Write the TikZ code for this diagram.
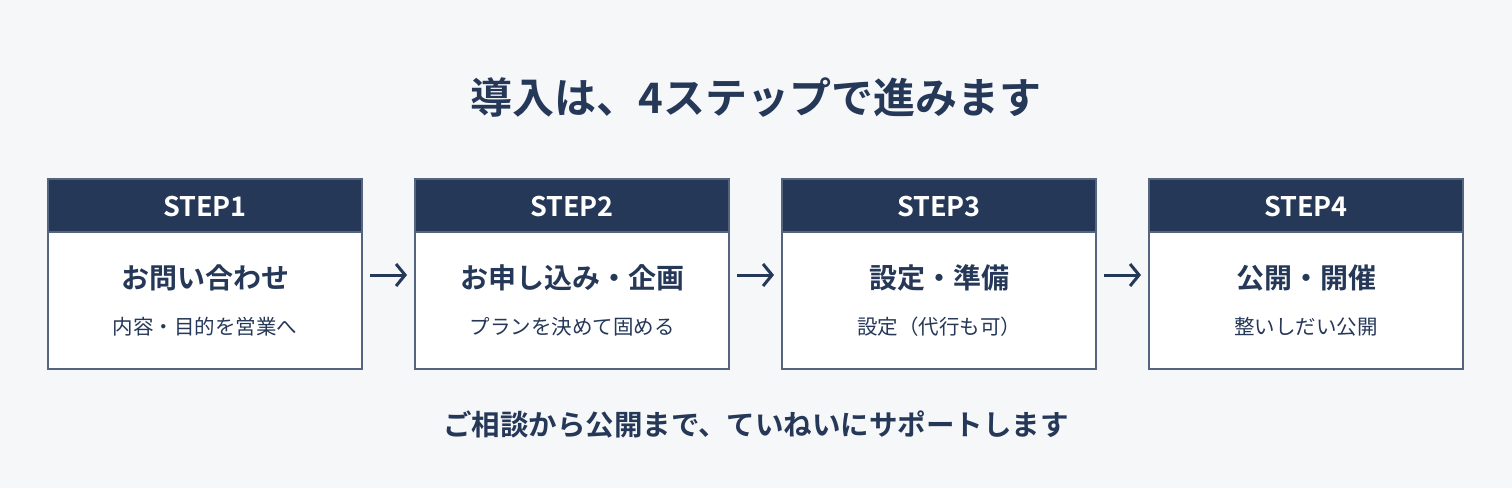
\documentclass[tikz,border=0pt]{standalone}
\usepackage{fontspec}
\newfontfamily\jp{Noto Sans CJK JP}
\newfontfamily\jpb{Noto Sans CJK JP Bold}
\usetikzlibrary{arrows.meta}
\definecolor{navy}{HTML}{253858}
\definecolor{bg}{HTML}{F6F7F9}
\definecolor{bord}{HTML}{55657F}
\tikzset{
  card/.style={draw=bord, line width=1.5pt, fill=white},
  head/.style={fill=navy},
  headtxt/.style={text=white, font=\jpb\fontsize{27}{30}\selectfont},
  ttl/.style={text=navy, font=\jpb\fontsize{28}{31}\selectfont},
  sub/.style={text=navy, font=\jp\fontsize{20.5}{23}\selectfont},
  flow/.style={draw=navy, line width=3pt, -{Straight Barb[length=9pt,width=22pt,line width=3pt]}},
}
\begin{document}
\begin{tikzpicture}[x=1pt,y=-1pt]
\fill[bg] (0,0) rectangle (1512,488);
\useasboundingbox (0,0) rectangle (1512,488);
\node[text=navy, font=\jpb\fontsize{42}{46}\selectfont] (title) at (756,98) {導入は、4ステップで進みます};
\foreach \i/\x/\t/\s in {1/48/お問い合わせ/内容・目的を営業へ, 2/415/お申し込み・企画/プランを決めて固める, 3/782/設定・準備/設定（代行も可）, 4/1149/公開・開催/整いしだい公開}{
  \fill[head] (\x,179) rectangle ++(314,53);
  \draw[card] (\x,232) rectangle ++(314,137);
  \draw[bord, line width=1.5pt] (\x,179) rectangle ++(314,190);
  \coordinate (L\i) at (\x,275);
  \coordinate (R\i) at (\x+314,275);
  \node[headtxt] (h\i) at (\x+157,207) {STEP\i};
  \node[ttl] (t\i) at (\x+157,278) {\t};
  \node[sub] (s\i) at (\x+157,327) {\s};
}
\foreach \a/\b in {1/2,2/3,3/4}{
  \draw[flow] ([xshift=8pt]R\a) -- ([xshift=-8pt]L\b);
}
\node[text=navy, font=\jpb\fontsize{28.5}{31}\selectfont] (foot) at (756,424) {ご相談から公開まで、ていねいにサポートします};
\end{tikzpicture}
\end{document}
